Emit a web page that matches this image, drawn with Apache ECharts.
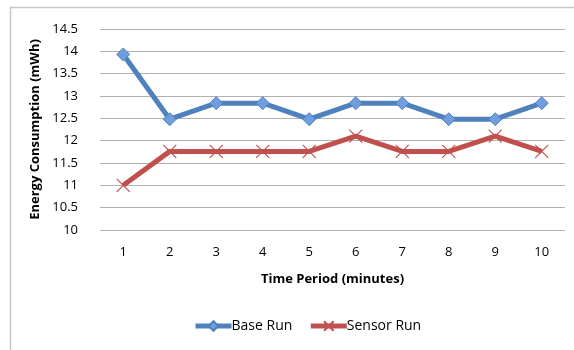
<!DOCTYPE html>
<html><head><meta charset="utf-8">
<script src="https://cdn.jsdelivr.net/npm/echarts@6/dist/echarts.min.js"></script>
<style>html,body{margin:0;padding:0;background:#fff}#c{width:574px;height:350px}</style>
</head><body><div id="c"></div>
<script>
const categories = ['1','2','3','4','5','6','7','8','9','10'];
const baseRun = [13.93, 12.48, 12.84, 12.84, 12.48, 12.84, 12.84, 12.48, 12.48, 12.84];
const sensorRun = [11.0, 11.76, 11.76, 11.76, 11.76, 12.1, 11.76, 11.76, 12.1, 11.76];
const yTicks = {min: 10, max: 14.5, interval: 0.5};

const font = '"Open Sans", "Liberation Sans", sans-serif';
const chart = echarts.init(document.getElementById('c'), null, {renderer: 'canvas'});
chart.setOption({
  animation: false,
  backgroundColor: '#fff',
  graphic: [{
    type: 'rect', left: 8, top: 5, z: -1,
    shape: {width: 700, height: 500},
    style: {fill: 'none', stroke: '#c8c8c8', lineWidth: 1.5}
  }],
  grid: {left: 100, right: 9, top: 29, bottom: 120, containLabel: false},
  xAxis: {
    type: 'category', data: categories, boundaryGap: true,
    name: 'Time Period (minutes)', nameLocation: 'middle', nameGap: 43,
    nameTextStyle: {fontFamily: font, fontWeight: 'bold', fontSize: 13, color: '#000'},
    axisLine: {show: false}, axisTick: {show: false},
    axisLabel: {fontFamily: font, fontSize: 13, color: '#000', margin: 16}
  },
  yAxis: {
    type: 'value', min: yTicks.min, max: yTicks.max, interval: yTicks.interval,
    name: 'Energy Consumption (mWh)', nameLocation: 'middle', nameGap: 47,
    nameTextStyle: {fontFamily: font, fontWeight: 'bold', fontSize: 13, color: '#000'},
    axisLine: {show: false}, axisTick: {show: false},
    axisLabel: {fontFamily: font, fontSize: 13, color: '#000', margin: 22},
    splitLine: {lineStyle: {color: '#b0b0b0', width: 1.2}}
  },
  legend: {
    bottom: 12, left: 188, itemWidth: 36, itemHeight: 12, itemGap: 16,
    textStyle: {fontFamily: font, fontSize: 14, color: '#000', padding: [0, 0, 0, -5]},
    data: [
      {name: 'Base Run', lineStyle: {width: 5}},
      {name: 'Sensor Run', lineStyle: {width: 5}}
    ]
  },
  series: [
    {
      name: 'Base Run', type: 'line', data: baseRun,
      symbol: 'diamond', symbolSize: 13,
      lineStyle: {color: '#4f81bd', width: 5},
      itemStyle: {color: '#6f9ddf', borderColor: '#4f81bd', borderWidth: 1}
    },
    {
      name: 'Sensor Run', type: 'line', data: sensorRun,
      symbol: 'path://M0,0L10,10M10,0L0,10', symbolSize: 13,
      lineStyle: {color: '#c0504d', width: 5},
      itemStyle: {color: 'rgba(0,0,0,0)', borderColor: '#c0504d', borderWidth: 1.2}
    }
  ]
});
</script></body></html>
